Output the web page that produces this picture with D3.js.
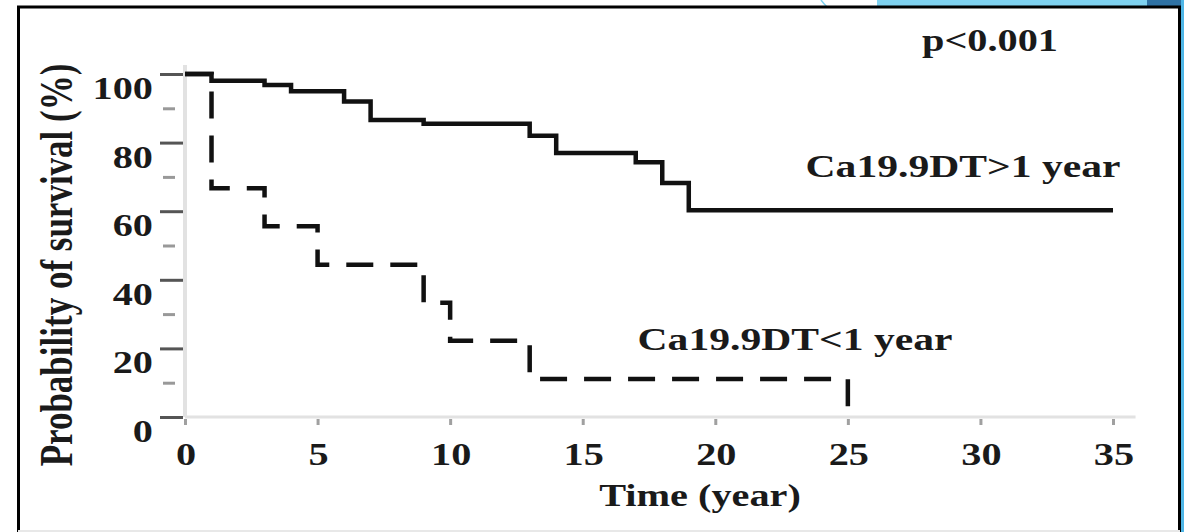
<!DOCTYPE html>
<html>
<head>
<meta charset="utf-8">
<script src="https://cdn.jsdelivr.net/npm/d3@7"></script>
<style>
  body { margin: 0; background: #fff; }
  svg text { font-family: "Liberation Serif", "Times New Roman", serif; font-weight: bold; fill: #1a1a1a; }
</style>
</head>
<body>
<div id="chart"></div>
<script>
// Kaplan-Meier steps (time in years, survival in %)
var highTimes = [0, 1, 3, 4, 6, 7, 9, 13, 14, 17, 18, 19, 35];
var highSurv  = [100, 98, 96.8, 95, 92, 86.6, 85.5, 82, 77, 74.3, 68.2, 60.3, 60.3];
var lowTimes  = [0, 1, 3, 5, 9, 10, 13, 25];
var lowSurv   = [100, 66.7, 55.6, 44.4, 33.3, 22.2, 11.1, 0];

var xTicks = [0, 5, 10, 15, 20, 25, 30, 35];
var yTicks = [0, 20, 40, 60, 80, 100];
var yMinor = [10, 30, 50, 70, 90];

var highLabel = "Ca19.9DT>1 year";
var lowLabel  = "Ca19.9DT<1 year";
var pLabel    = "p<0.001";
var xTitle    = "Time (year)";
var yTitle    = "Probability of survival (%)";

function drawChart() {
  var width = 1184;
  var height = 532;

  var x = d3.scaleLinear().domain([0, 35]).range([185, 1113]);
  var y = d3.scaleLinear().domain([0, 100]).range([417, 74]);

  var svg = d3.select("#chart")
    .append("svg")
    .attr("width", width)
    .attr("height", height);

  // blue slide decoration behind the frame
  svg.append("rect").attr("x", 877).attr("y", 0).attr("width", 270).attr("height", 7).attr("fill", "#7fd2f0");
  svg.append("rect").attr("x", 1147).attr("y", 0).attr("width", 37).attr("height", 7).attr("fill", "#2f72a4");
  svg.append("rect").attr("x", 1181).attr("y", 0).attr("width", 3).attr("height", height).attr("fill", "#4fb6e6");
  svg.append("path").attr("d", "M821,0 Q824,4 827,7").attr("fill", "none").attr("stroke", "#7fd2f0").attr("stroke-width", 1.5);

  // frame
  svg.append("path")
    .attr("d", "M18.5,532 L18.5,7 L1179.5,7 L1179.5,532")
    .attr("fill", "none")
    .attr("stroke", "#000")
    .attr("stroke-width", 3);
  svg.append("line")
    .attr("x1", 18).attr("x2", 1180).attr("y1", 531).attr("y2", 531)
    .attr("stroke", "#e8e8e8").attr("stroke-width", 2);

  // axis lines
  svg.append("line")
    .attr("x1", x(0)).attr("x2", x(35.85)).attr("y1", y(0)).attr("y2", y(0))
    .attr("stroke", "#e2e2e2").attr("stroke-width", 3);
  svg.append("line")
    .attr("x1", x(0)).attr("x2", x(0)).attr("y1", y(0)).attr("y2", y(102.6))
    .attr("stroke", "#e2e2e2").attr("stroke-width", 4);

  // ticks
  var yAxis = svg.append("g")
    .attr("transform", "translate(183,0)")
    .call(d3.axisLeft(y).tickValues(yTicks).tickSize(23).tickFormat(""));
  yAxis.select(".domain").remove();
  yAxis.selectAll("line").attr("stroke", "#555").attr("stroke-width", 3);

  var yAxisMinor = svg.append("g")
    .attr("transform", "translate(175,0)")
    .call(d3.axisLeft(y).tickValues(yMinor).tickSize(12).tickFormat(""));
  yAxisMinor.select(".domain").remove();
  yAxisMinor.selectAll("line").attr("stroke", "#999").attr("stroke-width", 3);

  var xAxis = svg.append("g")
    .attr("transform", "translate(0,419)")
    .call(d3.axisBottom(x).tickValues(xTicks).tickSize(6).tickFormat(""));
  xAxis.select(".domain").remove();
  xAxis.selectAll("line").attr("stroke", "#a0a0a0").attr("stroke-width", 3);

  // text is a little stretched sideways in the picture
  function label(txt, px, py, size, anchor, extra) {
    return svg.append("text")
      .attr("transform", "translate(" + px + "," + py + ")" + (extra || " scale(1.3,1)"))
      .attr("text-anchor", anchor)
      .style("font-size", size + "px")
      .text(txt);
  }

  yTicks.forEach(function(v) { label(v, 153, y(v) + 25, 31, "end"); });
  xTicks.forEach(function(v) { label(v, x(v) + 1, 465, 31, "middle"); });

  label(xTitle, 700, 506, 31, "middle");
  label(yTitle, 72, 265, 35, "middle", " rotate(-90) scale(1,1.3)");
  label(pLabel, 990, 51, 31, "middle");
  label(highLabel, 963, 177, 32, "middle");
  label(lowLabel, 795, 350, 32, "middle");

  // survival curves
  var line = d3.line()
    .x(function(d) { return x(d[0]); })
    .y(function(d) { return y(d[1]); })
    .curve(d3.curveStepAfter);

  var high = highTimes.map(function(t, i) { return [t, highSurv[i]]; });
  var low = lowTimes.map(function(t, i) { return [t, lowSurv[i]]; });

  svg.append("path")
    .datum(low)
    .attr("d", line)
    .attr("fill", "none")
    .attr("stroke", "#111")
    .attr("stroke-width", 4.5)
    .attr("stroke-dasharray", "27,17");

  svg.append("path")
    .datum(high)
    .attr("d", line)
    .attr("fill", "none")
    .attr("stroke", "#111")
    .attr("stroke-width", 4.5);
}

drawChart();
</script>
</body>
</html>
